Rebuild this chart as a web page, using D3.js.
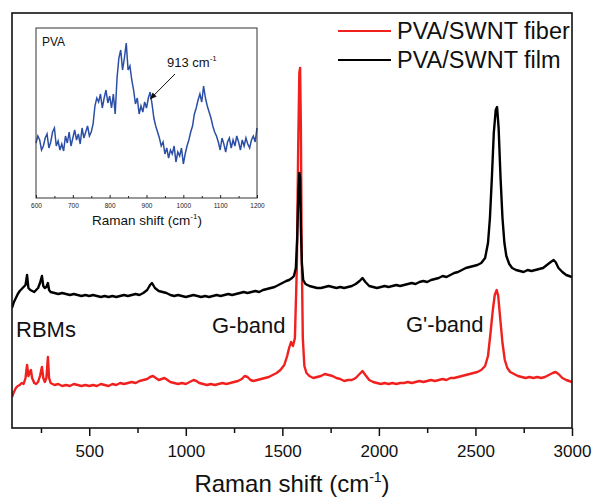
<!DOCTYPE html>
<html>
<head>
<meta charset="utf-8">
<script src="https://cdn.jsdelivr.net/npm/d3@7"></script>
<style>
  body { margin: 0; background: #fff; }
  svg { font-family: "Liberation Sans", Arial, sans-serif; }
</style>
</head>
<body>
<svg id="chart" width="593" height="499"></svg>
<script>
// Raman spectra, [shift (cm-1), intensity (a.u.)]
var fiberSpectrum = [
  [100,31],[110,36],[120,40],[130,42],[140,43],[150,45],[160,44],[170,50],[178,63],[185,52],
  [192,56],[198,58],[204,50],[209,48],[215,45],[225,44],[235,46],[245,52],[255,61],[262,50],
  [270,46],[278,50],[286,71],[292,50],[300,45],[320,43],[340,44],[360,42],[380,43],[400,42],
  [420,44],[440,43],[460,42],[480,43],[500,42],[520,43],[540,42],[560,44],[580,43],[600,42],
  [620,44],[640,43],[660,45],[680,44],[700,45],[720,46],[740,45],[760,47],[780,48],[800,49],
  [815,51],[830,52],[845,50],[860,48],[875,49],[890,50],[905,48],[920,46],[940,45],[960,44],
  [980,45],[1000,44],[1020,46],[1040,48],[1055,47],[1070,45],[1090,44],[1110,43],[1130,44],
  [1150,43],[1170,44],[1190,45],[1210,44],[1230,45],[1250,46],[1270,47],[1290,49],[1305,52],
  [1320,51],[1335,48],[1350,47],[1370,48],[1390,49],[1410,50],[1430,51],[1450,53],[1470,55],
  [1490,58],[1510,63],[1525,72],[1535,80],[1545,86],[1555,82],[1565,90],[1575,160],[1582,280],
  [1588,355],[1592,360],[1596,300],[1600,180],[1606,90],[1614,62],[1625,55],[1640,52],[1660,50],
  [1680,51],[1700,52],[1720,54],[1740,53],[1760,52],[1780,50],[1800,49],[1820,47],[1840,48],
  [1860,48],[1880,50],[1900,54],[1915,57],[1930,53],[1950,48],[1970,46],[1990,45],[2010,44],
  [2030,45],[2050,44],[2070,45],[2090,44],[2110,45],[2130,45],[2150,46],[2170,45],[2190,46],
  [2210,47],[2230,46],[2250,47],[2270,48],[2290,47],[2310,48],[2330,49],[2350,48],[2370,50],
  [2390,50],[2410,51],[2430,52],[2450,53],[2470,54],[2490,55],[2510,56],[2530,58],[2550,62],
  [2565,72],[2578,95],[2590,118],[2600,133],[2610,138],[2618,132],[2628,110],[2640,85],[2652,68],
  [2665,60],[2680,56],[2700,54],[2720,52],[2740,51],[2760,50],[2780,51],[2800,50],[2820,51],
  [2840,50],[2860,51],[2880,53],[2900,55],[2915,56],[2930,54],[2950,50],[2970,48],[2985,47],[3000,46]
];

var filmSpectrum = [
  [100,120],[110,126],[120,130],[130,134],[140,137],[150,139],[160,141],[170,143],[178,153],[185,140],
  [195,138],[205,137],[215,136],[225,138],[235,140],[245,145],[255,152],[262,142],[270,140],[278,141],
  [286,145],[292,138],[300,136],[320,135],[340,134],[360,135],[380,134],[400,133],[420,134],[440,133],
  [460,132],[480,133],[500,132],[520,133],[540,132],[560,131],[580,132],[600,131],[620,132],[640,131],
  [660,132],[680,133],[700,132],[720,133],[740,134],[760,133],[780,135],[800,138],[815,143],[825,145],
  [840,140],[860,137],[880,136],[900,135],[920,133],[940,132],[960,133],[980,132],[1000,131],[1020,132],
  [1040,133],[1060,132],[1080,131],[1100,132],[1120,131],[1140,132],[1160,133],[1180,132],[1200,133],
  [1220,134],[1240,133],[1260,134],[1280,135],[1300,136],[1320,135],[1340,136],[1360,137],[1380,136],
  [1400,138],[1420,139],[1440,140],[1460,141],[1480,143],[1500,145],[1520,147],[1535,148],[1550,150],
  [1560,152],[1570,160],[1577,190],[1583,235],[1588,255],[1592,250],[1596,200],[1601,165],[1608,148],
  [1620,144],[1640,142],[1660,141],[1680,140],[1700,140],[1720,141],[1740,142],[1760,141],[1780,140],
  [1800,141],[1820,140],[1840,141],[1860,142],[1880,144],[1900,147],[1915,150],[1930,146],[1950,142],
  [1970,141],[1990,140],[2010,141],[2030,142],[2050,141],[2070,142],[2090,143],[2110,142],[2130,143],
  [2150,144],[2170,145],[2190,144],[2210,146],[2230,147],[2250,146],[2270,148],[2290,149],[2310,150],
  [2330,152],[2350,151],[2370,153],[2390,155],[2410,156],[2430,158],[2450,160],[2470,161],[2490,162],
  [2510,163],[2530,165],[2550,170],[2565,185],[2575,210],[2585,250],[2595,295],[2605,318],[2612,321],
  [2620,300],[2630,250],[2640,210],[2650,185],[2660,172],[2675,164],[2690,160],[2710,158],[2730,157],
  [2750,156],[2770,158],[2790,157],[2810,158],[2830,159],[2850,160],[2870,163],[2890,166],[2905,168],
  [2915,166],[2930,160],[2950,156],[2970,153],[2985,152],[3000,151]
];

// inset: PVA spectrum, one value every 5 cm-1 from 600 to 1200
var pvaShift = d3.range(600, 1201, 5);
var pvaIntensity = [
  55,62,58,48,52,60,64,50,56,66,70,52,57,48,54,47,62,55,66,52,
  60,68,58,64,54,70,60,66,72,62,66,74,92,100,96,104,90,100,108,95,
  102,90,104,84,120,140,148,128,140,155,128,132,118,108,94,100,84,92,86,96,
  90,100,106,94,80,72,66,60,52,56,44,50,40,48,44,52,36,46,42,50,
  34,44,52,58,66,72,84,90,98,104,96,112,100,92,86,80,72,66,62,56,
  48,60,54,46,56,60,50,58,52,62,56,48,58,52,60,54,50,58,62,56,70
];

var series = [
  { name: "PVA/SWNT fiber", color: "#f0201e", data: fiberSpectrum },
  { name: "PVA/SWNT film", color: "#000000", data: filmSpectrum }
];
var majorTicks = [500, 1000, 1500, 2000, 2500, 3000];
var minorTicks = [250, 750, 1250, 1750, 2250, 2750];
var insetMajor = [600, 700, 800, 900, 1000, 1100, 1200];
var insetMinor = [650, 750, 850, 950, 1050, 1150];

var svg = d3.select("#chart");

// main plot area
var pL = 12, pR = 572, pT = 13, pB = 428;
var x = d3.scaleLinear().domain([100, 3000]).range([pL, pR]);
var y = d3.scaleLinear().domain([0, 415]).range([pB, pT]);

var defs = svg.append("defs");
defs.append("clipPath").attr("id", "clip")
  .append("rect").attr("x", pL).attr("y", pT)
  .attr("width", pR - pL).attr("height", pB - pT);

var line = d3.line()
  .x(function (d) { return x(d[0]); })
  .y(function (d) { return y(d[1]); });

// fiber first, film drawn on top
svg.append("g").attr("clip-path", "url(#clip)")
  .selectAll("path").data(series).enter().append("path")
  .attr("d", function (d) { return line(d.data); })
  .attr("fill", "none")
  .attr("stroke", function (d) { return d.color; })
  .attr("stroke-width", 2.4)
  .attr("stroke-linejoin", "round");

// frame
svg.append("rect")
  .attr("x", pL).attr("y", pT)
  .attr("width", pR - pL).attr("height", pB - pT)
  .attr("fill", "none").attr("stroke", "#111").attr("stroke-width", 1.6);

// bottom axis
var gX = svg.append("g").attr("transform", "translate(0," + pB + ")")
  .call(d3.axisBottom(x).tickValues(majorTicks).tickSize(8).tickPadding(9).tickFormat(d3.format("d")));
svg.append("g").attr("transform", "translate(0," + pB + ")")
  .call(d3.axisBottom(x).tickValues(minorTicks).tickSize(5).tickFormat(""));
svg.selectAll(".domain").remove();
svg.selectAll(".tick line").attr("stroke", "#111").attr("stroke-width", 1.5);
gX.selectAll("text").attr("font-size", 17).attr("fill", "#111")
  .attr("font-family", "Liberation Sans, Arial, sans-serif");

var title = svg.append("text")
  .attr("x", 292).attr("y", 492)
  .attr("text-anchor", "middle")
  .attr("font-size", 24).attr("fill", "#111");
title.append("tspan").text("Raman shift (cm");
title.append("tspan").attr("font-size", 14).attr("dy", -10).text("-1");
title.append("tspan").attr("dy", 10).text(")");

// band labels
var labels = [
  { text: "RBMs", x: 16, y: 337 },
  { text: "G-band", x: 212, y: 333 },
  { text: "G'-band", x: 406, y: 332 }
];
svg.selectAll(".band").data(labels).enter().append("text")
  .attr("class", "band")
  .attr("x", function (d) { return d.x; })
  .attr("y", function (d) { return d.y; })
  .attr("font-size", 22).attr("fill", "#111")
  .text(function (d) { return d.text; });

// legend
var legend = svg.selectAll(".legend").data(series).enter().append("g")
  .attr("class", "legend")
  .attr("transform", function (d, i) { return "translate(338," + (31 + i * 29) + ")"; });
legend.append("line")
  .attr("x1", 0).attr("x2", 53)
  .attr("stroke", function (d) { return d.color; })
  .attr("stroke-width", 2);
legend.append("text")
  .attr("x", 59).attr("y", 8)
  .attr("font-size", 23.5).attr("fill", "#111")
  .text(function (d) { return d.name; });

// inset
var iL = 36, iR = 257, iT = 28, iB = 198;
var xi = d3.scaleLinear().domain([600, 1200]).range([iL, iR]);
var yi = d3.scaleLinear().domain([0, 170]).range([iB, iT]);

var insetLine = d3.line()
  .x(function (d, i) { return xi(pvaShift[i]); })
  .y(function (d) { return yi(d); });

svg.append("path")
  .attr("d", insetLine(pvaIntensity))
  .attr("fill", "none")
  .attr("stroke", "#2c4fa6")
  .attr("stroke-width", 1.5);

svg.append("rect")
  .attr("x", iL).attr("y", iT)
  .attr("width", iR - iL).attr("height", iB - iT)
  .attr("fill", "none").attr("stroke", "#333").attr("stroke-width", 1);

var giX = svg.append("g").attr("transform", "translate(0," + iB + ")")
  .call(d3.axisBottom(xi).tickValues(insetMajor).tickSize(-3).tickPadding(5).tickFormat(d3.format("d")));
var giMinor = svg.append("g").attr("transform", "translate(0," + iB + ")")
  .call(d3.axisBottom(xi).tickValues(insetMinor).tickSize(-2).tickFormat(""));
svg.selectAll(".domain").remove();
giX.selectAll("text").attr("font-size", 6.5).attr("fill", "#222")
  .attr("font-family", "Liberation Sans, Arial, sans-serif");
giX.selectAll(".tick line").attr("stroke", "#222").attr("stroke-width", 1);
giMinor.selectAll(".tick line").attr("stroke", "#222").attr("stroke-width", 1);

var ititle = svg.append("text")
  .attr("x", 147).attr("y", 225)
  .attr("text-anchor", "middle")
  .attr("font-size", 13.5).attr("fill", "#111");
ititle.append("tspan").text("Raman shift (cm");
ititle.append("tspan").attr("font-size", 8).attr("dy", -6).text("-1");
ititle.append("tspan").attr("dy", 6).text(")");

svg.append("text").attr("x", 42).attr("y", 46)
  .attr("font-size", 12).attr("fill", "#111").text("PVA");

var peak = svg.append("text").attr("x", 167).attr("y", 67)
  .attr("font-size", 13).attr("fill", "#111");
peak.append("tspan").text("913 cm");
peak.append("tspan").attr("font-size", 8).attr("dy", -6).text("-1");

// arrow to the 913 peak
defs.append("marker")
  .attr("id", "arrow").attr("viewBox", "0 0 10 10")
  .attr("refX", 9).attr("refY", 5)
  .attr("markerWidth", 7).attr("markerHeight", 7)
  .attr("orient", "auto")
  .append("path").attr("d", "M0,1 L10,5 L0,9 Z").attr("fill", "#111");
svg.append("line")
  .attr("x1", 175).attr("y1", 74)
  .attr("x2", xi(910)).attr("y2", 99)
  .attr("stroke", "#111").attr("stroke-width", 1)
  .attr("marker-end", "url(#arrow)");
</script>
</body>
</html>
